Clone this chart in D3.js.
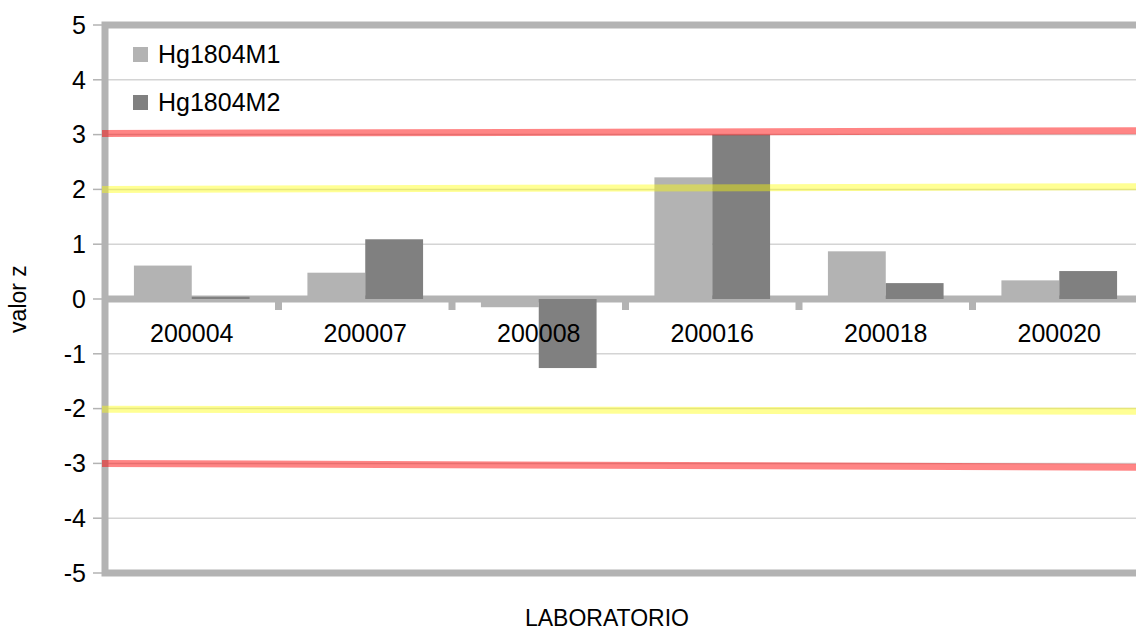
<!DOCTYPE html>
<html>
<head>
<meta charset="utf-8">
<script src="https://cdn.jsdelivr.net/npm/d3@7/dist/d3.min.js"></script>
<style>
  html, body { margin: 0; padding: 0; background: #fff; }
  text { font-family: "Liberation Sans", Arial, sans-serif; fill: #000; }
</style>
</head>
<body>
<div id="chart"></div>
<script>
// data
var labs = ["200004", "200007", "200008", "200016", "200018", "200020"];
var series = ["Hg1804M1", "Hg1804M2"];
var m1 = [0.61, 0.48, -0.15, 2.22, 0.87, 0.34];
var m2 = [0.04, 1.09, -1.26, 3.0, 0.29, 0.51];
var yTicks = [-5, -4, -3, -2, -1, 0, 1, 2, 3, 4, 5];
// limit lines: value at left edge, value at right edge of plot
var limits = [
  { name: "+3", from: 3.02, to: 3.07, color: "rgba(255,0,0,0.48)" },
  { name: "+2", from: 2.0, to: 2.05, color: "rgba(255,255,0,0.42)" },
  { name: "-2", from: -2.01, to: -2.05, color: "rgba(255,255,0,0.42)" },
  { name: "-3", from: -3.0, to: -3.07, color: "rgba(255,0,0,0.48)" }
];

(function() {
  var W = 1136, H = 631;
  var pLeft = 105, pTop = 25, pRight = 1146, pBottom = 573;
  var barColors = ["#b3b3b3", "#808080"];
  var axisGray = "#b3b3b3";
  var fs = "25px";

  var svg = d3.select("#chart").append("svg")
    .attr("width", W).attr("height", H);

  var y = d3.scaleLinear().domain([-5, 5]).range([pBottom, pTop]);
  var x0 = d3.scaleBand().domain(labs).range([pLeft, pRight]).padding(0);
  var x1 = d3.scaleBand().domain(series).range([0, x0.bandwidth()])
    .paddingInner(0).paddingOuter(0.5);

  // grid
  svg.append("g").selectAll("line")
    .data(yTicks).enter().append("line")
    .attr("x1", pLeft).attr("x2", pRight)
    .attr("y1", function(d) { return y(d); })
    .attr("y2", function(d) { return y(d); })
    .attr("stroke", "#d4d4d4").attr("stroke-width", 1.5);

  // y axis ticks + labels
  var yg = svg.append("g");
  yg.selectAll("line").data(yTicks).enter().append("line")
    .attr("x1", 93).attr("x2", pLeft)
    .attr("y1", function(d) { return y(d); })
    .attr("y2", function(d) { return y(d); })
    .attr("stroke", axisGray).attr("stroke-width", 1.5);
  yg.selectAll("text").data(yTicks).enter().append("text")
    .attr("x", 86)
    .attr("y", function(d) { return y(d); })
    .attr("dy", "0.35em")
    .attr("text-anchor", "end")
    .style("font-size", fs)
    .text(function(d) { return d; });

  // x axis line at zero with category ticks
  var zero = y(0);
  svg.append("line")
    .attr("x1", pLeft).attr("x2", pRight)
    .attr("y1", zero).attr("y2", zero)
    .attr("stroke", axisGray).attr("stroke-width", 7);
  svg.append("g").selectAll("line")
    .data(labs.slice(1)).enter().append("line")
    .attr("x1", function(d) { return x0(d); })
    .attr("x2", function(d) { return x0(d); })
    .attr("y1", zero).attr("y2", zero + 11)
    .attr("stroke", axisGray).attr("stroke-width", 7);

  // bars
  var rows = labs.map(function(l, i) {
    return { lab: l, vals: [m1[i], m2[i]] };
  });
  svg.append("g").selectAll("g")
    .data(rows).enter().append("g")
    .attr("transform", function(d) { return "translate(" + x0(d.lab) + ",0)"; })
    .selectAll("rect")
    .data(function(d) { return d.vals.map(function(v, k) { return { s: series[k], v: v, k: k }; }); })
    .enter().append("rect")
    .attr("x", function(d) { return x1(d.s); })
    .attr("width", x1.bandwidth())
    .attr("y", function(d) { return y(Math.max(0, d.v)); })
    .attr("height", function(d) { return Math.abs(y(d.v) - y(0)); })
    .attr("fill", function(d) { return barColors[d.k]; });

  // category labels
  svg.append("g").selectAll("text")
    .data(labs).enter().append("text")
    .attr("x", function(d) { return x0(d) + x0.bandwidth() / 2; })
    .attr("y", 342)
    .attr("text-anchor", "middle")
    .style("font-size", fs)
    .text(function(d) { return d; });

  // frame
  svg.append("rect")
    .attr("x", pLeft).attr("y", pTop)
    .attr("width", pRight - pLeft).attr("height", pBottom - pTop)
    .attr("fill", "none")
    .attr("stroke", axisGray).attr("stroke-width", 7);

  // limit lines
  svg.append("g").selectAll("line")
    .data(limits).enter().append("line")
    .attr("x1", pLeft - 3).attr("x2", pRight)
    .attr("y1", function(d) { return y(d.from); })
    .attr("y2", function(d) { return y(d.to); })
    .attr("stroke", function(d) { return d.color; })
    .attr("stroke-width", 7);

  // legend
  var lg = svg.append("g").selectAll("g")
    .data(series).enter().append("g")
    .attr("transform", function(d, i) { return "translate(133," + (47 + i * 48) + ")"; });
  lg.append("rect").attr("width", 15).attr("height", 15)
    .attr("fill", function(d, i) { return barColors[i]; });
  lg.append("text").attr("x", 25).attr("y", 7.5).attr("dy", "0.35em")
    .style("font-size", fs)
    .text(function(d) { return d; });

  // axis titles
  svg.append("text")
    .attr("x", 607).attr("y", 626)
    .attr("text-anchor", "middle")
    .style("font-size", "23px")
    .text("LABORATORIO");
  svg.append("text")
    .attr("transform", "translate(26," + 299 + ") rotate(-90)")
    .attr("text-anchor", "middle")
    .style("font-size", "23px")
    .text("valor z");
})();
</script>
</body>
</html>
